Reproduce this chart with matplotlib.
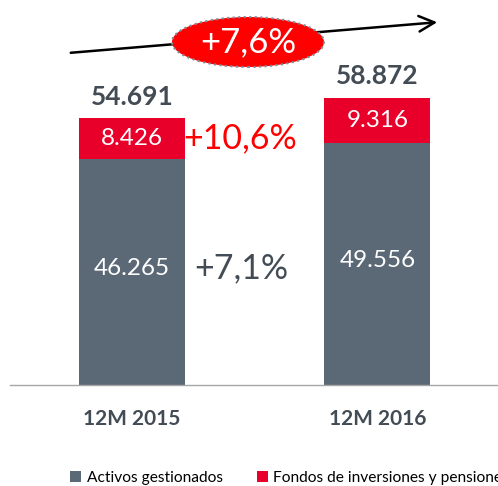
import matplotlib.pyplot as plt
from matplotlib.patches import Ellipse, FancyArrowPatch

# data (millones)
categories = ["12M 2015", "12M 2016"]
activos = [46265, 49556]
fondos = [8426, 9316]
totals = [54691, 58872]
activos_lbl = ["46.265", "49.556"]
fondos_lbl = ["8.426", "9.316"]
totals_lbl = ["54.691", "58.872"]
series_names = ["Activos gestionados", "Fondos de inversiones y pensiones"]

grey = "#5b6977"
red = "#e8002b"
dark = "#434c55"

plt.rcParams['font.family'] = ['Lato', 'DejaVu Sans']

fig = plt.figure(figsize=(4.98, 4.86), dpi=100)
ax = fig.add_axes([10 / 498, 101 / 486, 488 / 498, 366 / 486])

x = [0, 1]
w = 0.432
b1 = ax.bar(x, activos, w, color=grey, label=series_names[0])
b2 = ax.bar(x, fondos, w, bottom=activos, color=red, label=series_names[1])

for i in x:
    ax.text(i, activos[i] * 0.5 + 800, activos_lbl[i], ha="center", va="center",
            color="white", fontsize=17.5)
    ax.text(i, activos[i] + fondos[i] / 2, fondos_lbl[i], ha="center", va="center",
            color="white", fontsize=17.5)
    ax.text(i, totals[i] + 4400, totals_lbl[i], ha="center", va="center",
            color=dark, fontsize=19, fontweight="bold")

# variation labels next to 2015 bar
ax.text(0.44, activos[0] + fondos[0] / 2, "+10,6%", ha="center", va="center",
        color="#ff0000", fontsize=24.5)
ax.text(0.445, activos[0] * 0.5 + 700, "+7,1%", ha="center", va="center",
        color=dark, fontsize=24.5)

ax.set_xlim(-0.497, 1.491)
ax.set_ylim(0, 75000)
ax.set_xticks(x)
ax.set_xticklabels(categories, fontsize=15, fontweight="bold", color=dark)
ax.tick_params(axis="x", length=0, pad=17)
ax.set_yticks([])
for s in ["top", "right", "left"]:
    ax.spines[s].set_visible(False)
ax.spines["bottom"].set_color("#a6a6a6")
ax.spines["bottom"].set_linewidth(1)

# growth arrow with ellipse
fig.patches.append(FancyArrowPatch(
    (68 / 498, 1 - 53 / 486), (440 / 498, 1 - 22 / 486),
    transform=fig.transFigure, arrowstyle="->", mutation_scale=28,
    color="black", lw=1.8))
ell = Ellipse((248 / 498, 1 - 42 / 486), 152 / 498, 50 / 486,
              transform=fig.transFigure, facecolor="#ff0000",
              edgecolor="#7f8c99", linestyle=":", lw=1.5)
fig.patches.append(ell)
fig.text(248 / 498, 1 - 42 / 486, "+7,6%", ha="center", va="center",
         color="white", fontsize=25)

# legend runs past the right edge, as in the source slide
fig.legend(handles=[b1, b2], loc="center left",
           bbox_to_anchor=(64 / 498, 1 - 478 / 486), ncol=2, frameon=False,
           fontsize=11.2, handlelength=0.7, handleheight=0.7,
           handletextpad=0.35, columnspacing=2.2, borderaxespad=0)

fig.savefig("out.png", dpi=100)
